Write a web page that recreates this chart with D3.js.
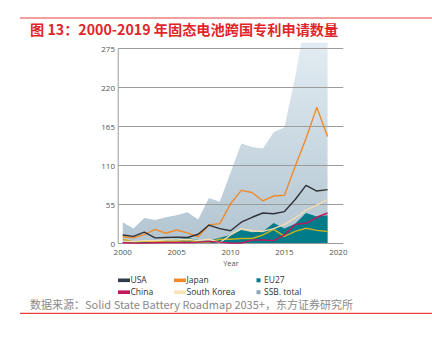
<!DOCTYPE html>
<html><head><meta charset="utf-8">
<script src="https://cdn.jsdelivr.net/npm/d3@7"></script>
<style>body{margin:0;background:#fff}svg{display:block}</style>
</head><body>
<script>
const years = [2000,2001,2002,2003,2004,2005,2006,2007,2008,2009,2010,2011,2012,2013,2014,2015,2016,2017,2018,2019];
const ssbTotal = [30,21,36,33,37,40,44,34,64,59,100,141,136,134,157,164,235,320,330,320];
const eu27 = [2,2,3,4,5,6,8,5,4,8,12,19,16,17,29,21,28,43,38,40];
const usa = [12,10,16,8,8.5,9,8.5,13,26,21,18,30,37,43,42,45,62,82,74,76];
const japan = [9.5,8,12.5,20,14.5,19,15,9.5,26,28,56,75,72,60,67,68,109,148,192,151];
const china = [1,0.5,0.5,1,1.5,1.5,1.5,2,3,2,0.5,0.5,5,5,4,12,27,28.5,37,43];
const southKorea = [2,3,4,4,5,5,6,4,6,1,12,21,18,17,21,27,36,47,54,62];
const other = [6,2,3,3,3,3,4,2,2,6,6,7,7,12,20,10,17,21.5,18.5,17];
const yTicks = [0,55,110,165,220,275];
const xTicks = [2000,2005,2010,2015,2020];
const title = "图 13：2000-2019 年固态电池跨国专利申请数量";
const source = "数据来源：Solid State Battery Roadmap 2035+，东方证券研究所";

const W=432,H=339;
const svg=d3.select("body").append("svg").attr("width",W).attr("height",H);
const font="'Open Sans','Noto Sans','Noto Sans CJK SC',sans-serif";
const cjk="'Noto Sans CJK SC',sans-serif";

// frame lines and title
svg.append("line").attr("x1",20).attr("x2",432).attr("y1",18).attr("y2",18).attr("stroke","#e8403c").attr("stroke-width",1.2);
svg.append("line").attr("x1",20).attr("x2",432).attr("y1",313.3).attr("y2",313.3).attr("stroke","#e8403c").attr("stroke-width",1.2);
svg.append("text").attr("x",30).attr("y",34.5).attr("font-family",cjk).attr("font-size",14.2).attr("font-weight","bold").attr("fill","#e0262a").text(title);
svg.append("text").attr("x",30).attr("y",309).attr("font-family",cjk).attr("font-size",11).attr("fill","#8a8a8a").text(source);

const x=d3.scaleLinear().domain([1999.58,2020.46]).range([118.2,343.3]);
const y=d3.scaleLinear().domain([0,275]).range([243.5,48.5]);
const yClip=y(283);

const defs=svg.append("defs");
const g=defs.append("linearGradient").attr("id","ssbGrad").attr("gradientUnits","userSpaceOnUse").attr("x1",0).attr("x2",0).attr("y1",yClip).attr("y2",y(0));
g.append("stop").attr("offset",0).attr("stop-color","#e2ecf2");
g.append("stop").attr("offset",1).attr("stop-color","#b2c5d1");
defs.append("clipPath").attr("id","clipTop").append("rect").attr("x",x(1999.58)).attr("y",yClip).attr("width",x(2020.46)-x(1999.58)).attr("height",y(0)-yClip);

const idx=d3.range(years.length);
const area=vals=>d3.area().x(i=>x(years[i])).y0(y(0)).y1(i=>y(vals[i]))(idx);
const line=vals=>d3.line().x(i=>x(years[i])).y(i=>y(vals[i]))(idx);

const plot=svg.append("g").attr("clip-path","url(#clipTop)");
plot.append("path").attr("d",area(ssbTotal)).attr("fill","url(#ssbGrad)");
plot.append("path").attr("d",area(eu27)).attr("fill","#007b8a");

// gridlines
svg.append("g").selectAll("line").data(yTicks).join("line")
  .attr("x1",x(1999.58)).attr("x2",x(2020.46)).attr("y1",d=>y(d)).attr("y2",d=>y(d))
  .attr("stroke","#9c9c9c").attr("stroke-width",1);
svg.append("line").attr("x1",x(1999.58)).attr("x2",x(1999.58)).attr("y1",y(275)).attr("y2",y(0)).attr("stroke","#9c9c9c").attr("stroke-width",1);

// y labels
svg.append("g").selectAll("text").data(yTicks).join("text")
  .attr("x",115).attr("y",d=>y(d)+3).attr("text-anchor","end")
  .attr("font-family",font).attr("font-size",8).attr("fill","#555").text(d=>d);
// x labels
svg.append("g").selectAll("text").data(xTicks).join("text")
  .attr("x",d=>x(d)).attr("y",254.5).attr("text-anchor","middle")
  .attr("font-family",font).attr("font-size",8).attr("fill","#555").text(d=>d);
svg.append("text").attr("x",231).attr("y",265.5).attr("text-anchor","middle").attr("font-family",font).attr("font-size",7.5).attr("fill","#555").text("Year");

// lines
const series=[
  {v:other,c:"#c8b21e"},
  {v:southKorea,c:"#f5ddb0"},
  {v:china,c:"#c2185b"},
  {v:japan,c:"#f08a2a"},
  {v:usa,c:"#2f3238"}
];
series.forEach(s=>{
  svg.append("path").attr("d",line(s.v)).attr("fill","none").attr("stroke",s.c).attr("stroke-width",1.4).attr("stroke-linejoin","round");
});

// legend
const leg=svg.append("g").attr("font-family",font).attr("font-size",8.5).attr("fill","#333");
const legLines=[
  {t:"USA",c:"#2f3a4a",x:118,y:280.3},
  {t:"Japan",c:"#f08a2a",x:174,y:280.3},
  {t:"China",c:"#c2185b",x:118,y:292.2},
  {t:"South Korea",c:"#fbe3b8",x:174,y:292.2}
];
legLines.forEach(l=>{
  leg.append("rect").attr("x",l.x).attr("y",l.y-1.8).attr("width",12).attr("height",3.6).attr("fill",l.c);
  leg.append("text").attr("x",l.x+12.5).attr("y",l.y+3).text(l.t);
});
const legSq=[
  {t:"EU27",c:"#007b8a",y:280.3},
  {t:"SSB. total",c:"#8fa7b8",y:292.2}
];
legSq.forEach(l=>{
  leg.append("rect").attr("x",256.5).attr("y",l.y-2).attr("width",4).attr("height",4).attr("fill",l.c);
  leg.append("text").attr("x",264).attr("y",l.y+3).text(l.t);
});
</script>
</body></html>
